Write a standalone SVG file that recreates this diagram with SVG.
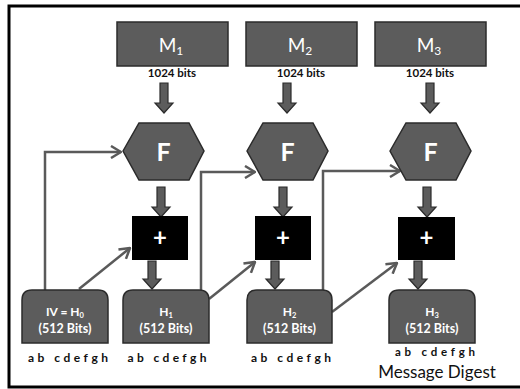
<svg xmlns="http://www.w3.org/2000/svg" width="520" height="389" viewBox="0 0 520 389">
<defs>
<style>
.box{fill:#5c5c5c;stroke:#2b2b2b;stroke-width:1.5}
.plus{fill:#000}
.blk{fill:#5c5c5c;stroke:#2b2b2b;stroke-width:1.2}
.ln{fill:none;stroke:#5a5a5a;stroke-width:2.5;marker-end:url(#ah)}
.t{font-family:Lato,"Liberation Sans",sans-serif;text-anchor:middle}
.w{fill:#fff}
.k{fill:#111}
</style>
<marker id="ah" viewBox="0 0 12 14" refX="11" refY="7" markerWidth="12" markerHeight="14" markerUnits="userSpaceOnUse" orient="auto">
<path d="M1,1 L11,7 L1,13" fill="none" stroke="#5a5a5a" stroke-width="2.5"/>
</marker>
</defs>
<rect x="0" y="0" width="520" height="389" fill="#fff"/>
<rect x="9" y="6" width="530" height="381" fill="none" stroke="#000" stroke-width="3"/>

<g id="connectors">
<path class="ln" d="M45,290 V152 H121"/>
<path class="ln" d="M79,289 L130,248"/>
<path class="ln" d="M201,290 V172 H255"/>
<path class="ln" d="M209,299 L255,262"/>
<path class="ln" d="M323,290 V171 H400"/>
<path class="ln" d="M332,312 L397,263"/>
<path class="blk" d="M160,83 H168 V103 H173 L164,113 L155,103 H160 Z"/>
<path class="blk" d="M283,83 H291 V103 H296 L287,113 L278,103 H283 Z"/>
<path class="blk" d="M426,83 H434 V103 H439 L430,113 L421,103 H426 Z"/>
<path class="blk" d="M157,187 H165 V207 H170 L161,217 L152,207 H157 Z"/>
<path class="blk" d="M279,187 H287 V207 H292 L283,217 L274,207 H279 Z"/>
<path class="blk" d="M423,187 H431 V207 H436 L427,217 L418,207 H423 Z"/>
<path class="blk" d="M148,261 H156 V279 H161 L152,289 L143,279 H148 Z"/>
<path class="blk" d="M271,261 H279 V279 H284 L275,289 L266,279 H271 Z"/>
<path class="blk" d="M414,261 H422 V279 H427 L418,289 L409,279 H414 Z"/>
</g>

<g id="M1">
<rect class="box" x="117" y="22" width="111" height="44"/>
<text class="t w" x="171" y="52" font-size="19">M<tspan font-size="12" dy="3">1</tspan></text>
<text class="t k" x="172" y="77" font-size="11.5" font-weight="bold">1024 bits</text>
</g>
<g id="M2">
<rect class="box" x="246" y="22" width="111" height="44"/>
<text class="t w" x="300" y="52" font-size="19">M<tspan font-size="12" dy="3">2</tspan></text>
<text class="t k" x="301" y="77" font-size="11.5" font-weight="bold">1024 bits</text>
</g>
<g id="M3">
<rect class="box" x="375" y="22" width="111" height="44"/>
<text class="t w" x="429" y="52" font-size="19">M<tspan font-size="12" dy="3">3</tspan></text>
<text class="t k" x="430" y="77" font-size="11.5" font-weight="bold">1024 bits</text>
</g>

<g id="F1">
<polygon class="box" points="123,151 139,123 189,123 204,151 189,180 139,180"/>
<text class="t w" x="163.5" y="161" font-size="25" font-weight="bold">F</text>
</g>
<g id="F2">
<polygon class="box" points="247,151 263,123 313,123 328,151 313,180 263,180"/>
<text class="t w" x="287.5" y="161" font-size="25" font-weight="bold">F</text>
</g>
<g id="F3">
<polygon class="box" points="390,151 406,123 456,123 471,151 456,180 406,180"/>
<text class="t w" x="430.5" y="161" font-size="25" font-weight="bold">F</text>
</g>

<g id="add1">
<rect class="plus" x="132" y="216" width="56" height="44"/>
<text class="t w" x="160" y="246" font-size="24" font-weight="bold">+</text>
</g>
<g id="add2">
<rect class="plus" x="255" y="216" width="56" height="44"/>
<text class="t w" x="283" y="246" font-size="24" font-weight="bold">+</text>
</g>
<g id="add3">
<rect class="plus" x="398" y="217" width="57" height="43"/>
<text class="t w" x="426.5" y="246" font-size="24" font-weight="bold">+</text>
</g>

<g id="H0">
<path class="box" d="M22,343 V300 Q22,290 32,290 H98 Q108,290 108,300 V343 Z"/>
<text class="t w" x="65" y="316" font-size="12" font-weight="bold">IV = H<tspan font-size="7.5" dy="1.5">0</tspan></text>
<text class="t w" x="65" y="333" font-size="12.5" font-weight="bold">(512 Bits)</text>
<text class="t k" x="68" y="362" font-size="12" font-weight="bold" textLength="80" lengthAdjust="spacing">ab cdefgh</text>
</g>
<g id="H1">
<path class="box" d="M123,343 V300 Q123,290 133,290 H199 Q209,290 209,300 V343 Z"/>
<text class="t w" x="166" y="316" font-size="12" font-weight="bold">H<tspan font-size="7.5" dy="1.5">1</tspan></text>
<text class="t w" x="166" y="333" font-size="12.5" font-weight="bold">(512 Bits)</text>
<text class="t k" x="167" y="362" font-size="12" font-weight="bold" textLength="79" lengthAdjust="spacing">ab cdefgh</text>
</g>
<g id="H2">
<path class="box" d="M247,343 V300 Q247,290 257,290 H322 Q332,290 332,300 V343 Z"/>
<text class="t w" x="289.5" y="316" font-size="12" font-weight="bold">H<tspan font-size="7.5" dy="1.5">2</tspan></text>
<text class="t w" x="289.5" y="333" font-size="12.5" font-weight="bold">(512 Bits)</text>
<text class="t k" x="291" y="362" font-size="12" font-weight="bold" textLength="80" lengthAdjust="spacing">ab cdefgh</text>
</g>
<g id="H3">
<path class="box" d="M389,343 V300 Q389,290 399,290 H465 Q475,290 475,300 V343 Z"/>
<text class="t w" x="432" y="316" font-size="12" font-weight="bold">H<tspan font-size="7.5" dy="1.5">3</tspan></text>
<text class="t w" x="432" y="333" font-size="12.5" font-weight="bold">(512 Bits)</text>
<text class="t k" x="435" y="356" font-size="11.5" font-weight="bold" textLength="80" lengthAdjust="spacing">ab cdefgh</text>
<text class="t k" x="437" y="378" font-size="17">Message Digest</text>
</g>
</svg>
